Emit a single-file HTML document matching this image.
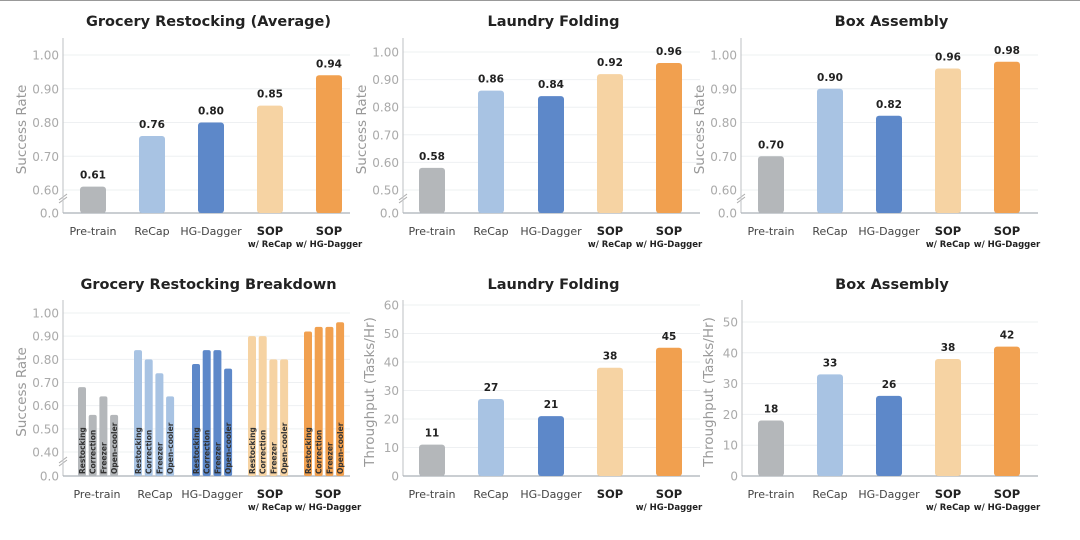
<!DOCTYPE html>
<html><head><meta charset="utf-8"><style>
body{margin:0;background:#fff}
svg{display:block;font-family:"DejaVu Sans","Liberation Sans",sans-serif}
</style></head><body>
<svg id="c" width="1080" height="540" viewBox="0 0 1080 540">
<rect x="0" y="0" width="1080" height="540" fill="#fff"/>
<line x1="0" y1="0.5" x2="1080" y2="0.5" stroke="#999" stroke-width="1"/>
</svg>
<script>
const methods = ["Pre-train","ReCap","HG-Dagger","SOP","SOP"];
const methodSubs = ["","","","w/ ReCap","w/ HG-Dagger"];
const colors = ["#b4b7ba","#a8c3e3","#5d88c9","#f6d3a3","#f1a04f"];
const groceryAvg = [0.61,0.76,0.80,0.85,0.94];
const laundrySR = [0.58,0.86,0.84,0.92,0.96];
const boxSR = [0.70,0.90,0.82,0.96,0.98];
const subtasks = ["Restocking","Correction","Freezer","Open-cooler"];
const breakdown = [[0.68,0.56,0.64,0.56],[0.84,0.80,0.74,0.64],[0.78,0.84,0.84,0.76],[0.90,0.90,0.80,0.80],[0.92,0.94,0.94,0.96]];
const laundryTP = [11,27,21,38,45];
const boxTP = [18,33,26,38,42];
const srTicks1 = [0.60,0.70,0.80,0.90,1.00];
const srTicks2 = [0.50,0.60,0.70,0.80,0.90,1.00];
const srTicks3 = [0.40,0.50,0.60,0.70,0.80,0.90,1.00];
const tpTicks1 = [0,10,20,30,40,50,60];
const tpTicks2 = [0,10,20,30,40,50];

const svg = document.getElementById('c');
const NS = 'http://www.w3.org/2000/svg';
function mk(tag, attrs, parent){const e=document.createElementNS(NS,tag);for(const k in attrs)e.setAttribute(k,attrs[k]);(parent||svg).appendChild(e);return e;}
function txt(s, attrs, parent){const e=mk('text',attrs,parent);e.textContent=s;return e;}

function panel(p){
  const g = mk('g',{});
  
  
  const low=p.ticks[0], high=p.ticks[p.ticks.length-1];
  const yScale = v => p.yLow - (v-low)/(high-low)*(p.yLow-p.yHigh);
  const bottom = p.y0;
  const t = txt(p.title,{x:(p.ax+p.right)/2+2,y:p.titleY,'text-anchor':'middle','font-size':14.5,'font-weight':'bold',fill:'#222'},g);
  
  
  p.ticks.forEach(v=>{
    const y=yScale(v);
    mk('line',{x1:p.ax,y1:y,x2:p.right,y2:y,stroke:'#eef0f2','stroke-width':1},g);
    const tl = txt(p.fmt(v),{x:p.ax-4,y:y+4.5,'text-anchor':'end','font-size':12,fill:'#aaa'},g);
    
    
  });
  if(p.broken){
    const tl = txt('0.0',{x:p.ax-4,y:bottom+4.5,'text-anchor':'end','font-size':12,fill:'#aaa'},g);
    
    
    mk('path',{d:`M${p.ax-4} ${bottom-13} l8 -6 M${p.ax-4} ${bottom-10} l8 -6`,stroke:'#aaa','stroke-width':1,fill:'none'},g);
  }
  mk('line',{x1:p.ax,y1:p.axTop,x2:p.ax,y2:bottom,stroke:'#c8cacd','stroke-width':1.2},g);
  mk('line',{x1:p.ax,y1:bottom,x2:p.right,y2:bottom,stroke:'#aab0b8','stroke-width':1.2},g);
  const yl = txt(p.ylabel,{x:0,y:0,'text-anchor':'middle','font-size':13.5,fill:'#999',transform:`translate(${p.ax-p.ylOff},${(p.axTop+bottom)/2+4}) rotate(-90)`},g);
  
  
  methods.forEach((m,i)=>{
    const cx=p.centers[i];
    if(p.group){
      const vals=p.values[i];
      vals.forEach((v,j)=>{
        const x=cx-16+j*10.7, y=yScale(v);
        const r=mk('rect',{x:x-4,y:y,width:8,height:bottom-y,rx:2,fill:colors[i]},g);
        
        
        const st=txt(subtasks[j],{x:0,y:0,'font-size':7.5,'font-weight':'bold',fill:'#333',transform:`translate(${x+3},${bottom-2}) rotate(-90)`},g);
        
        
      });
    } else {
      const v=p.values[i], y=yScale(v);
      const r=mk('rect',{x:cx-13,y:y,width:26,height:bottom-y,rx:3,fill:colors[i]},g);
      
      
      const vl=txt(p.vfmt(v),{x:cx,y:y-8,'text-anchor':'middle','font-size':10.5,'font-weight':'bold',fill:'#222'},g);
      
      
    }
    const sop = i>=3;
    const lx = p.labelCenters ? p.labelCenters[i] : cx;
    const xl=txt(m,{x:lx,y:bottom+22,'text-anchor':'middle','font-size':sop?11.5:11,'font-weight':sop?'bold':'normal',fill:sop?'#222':'#444'},g);
    
    
    if(methodSubs[i] && !(p.hideSub && p.hideSub[i])){
      const sl=txt(methodSubs[i],{x:lx,y:bottom+34,'text-anchor':'middle','font-size':8.5,'font-weight':'bold',fill:'#222'},g);
      
      
    }
  });
}
const f2=v=>v.toFixed(2), f0=v=>String(v);
const c1=[93,152,211,270,329], c2=[432,491,551,610,669], c3=[771,830,889,948,1007];
const cb=[98,154,212,268,324];
panel({name:'grocery-average-chart',title:'Grocery Restocking (Average)',titleY:26,ax:63,right:350,axTop:38,y0:213,yLow:190,yHigh:55,ticks:srTicks1,fmt:f2,vfmt:f2,broken:true,ylabel:'Success Rate',ylOff:37,centers:c1,values:groceryAvg});
panel({name:'laundry-success-chart',title:'Laundry Folding',titleY:26,ax:403,right:700,axTop:38,y0:213,yLow:190,yHigh:52,ticks:srTicks2,fmt:f2,vfmt:f2,broken:true,ylabel:'Success Rate',ylOff:37,centers:c2,values:laundrySR});
panel({name:'box-success-chart',title:'Box Assembly',titleY:26,ax:741,right:1038,axTop:38,y0:213,yLow:190,yHigh:55,ticks:srTicks1,fmt:f2,vfmt:f2,broken:true,ylabel:'Success Rate',ylOff:37,centers:c3,values:boxSR});
panel({name:'grocery-breakdown-chart',title:'Grocery Restocking Breakdown',titleY:289,ax:63,right:350,axTop:300,y0:476,yLow:452,yHigh:313,ticks:srTicks3,fmt:f2,vfmt:f2,broken:true,group:true,ylabel:'Success Rate',ylOff:37,centers:cb,labelCenters:[97,155,212,270,328],values:breakdown});
panel({name:'laundry-throughput-chart',title:'Laundry Folding',titleY:289,ax:403,right:700,axTop:300,y0:476,yLow:476,yHigh:305,ticks:tpTicks1,fmt:f0,vfmt:f0,ylabel:'Throughput (Tasks/Hr)',ylOff:29,centers:c2,values:laundryTP,hideSub:[0,0,0,1,0]});
panel({name:'box-throughput-chart',title:'Box Assembly',titleY:289,ax:742,right:1038,axTop:300,y0:476,yLow:476,yHigh:322,ticks:tpTicks2,fmt:f0,vfmt:f0,ylabel:'Throughput (Tasks/Hr)',ylOff:29,centers:c3,values:boxTP});
</script>
</body></html>
